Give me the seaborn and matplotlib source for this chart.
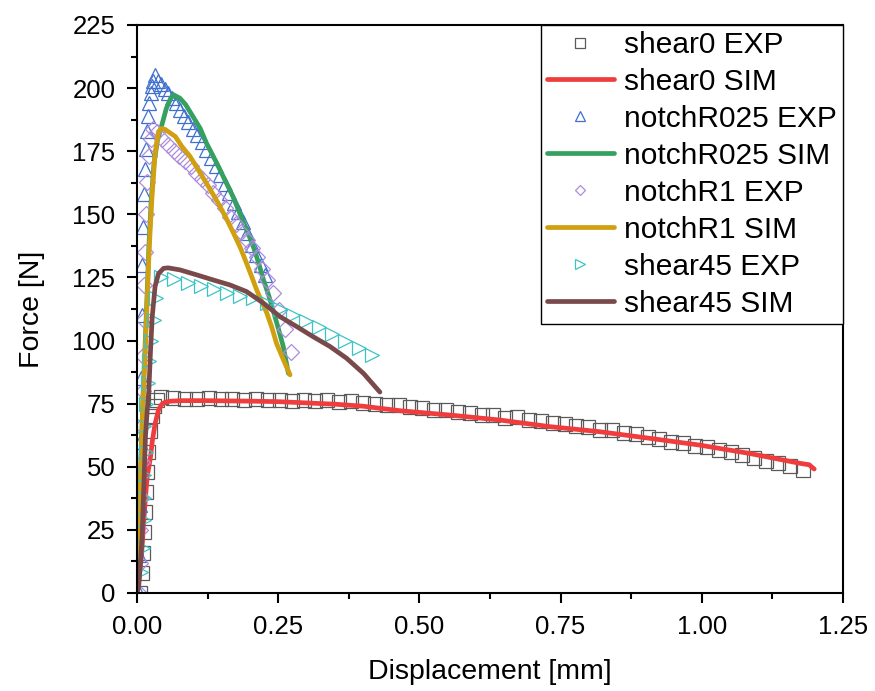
import matplotlib
matplotlib.use("Agg")
import matplotlib.pyplot as plt
import seaborn as sns
import pandas as pd
from matplotlib.ticker import MultipleLocator, FormatStrFormatter

# ---------------- data ----------------
shear0_exp_x = [0.006, 0.008, 0.010, 0.012, 0.014, 0.016, 0.018, 0.020, 0.023, 0.026, 0.030, 0.036,
                0.043, 0.064, 0.085, 0.106, 0.127, 0.148, 0.169, 0.190, 0.211, 0.232,
                0.253, 0.274, 0.295, 0.316, 0.337, 0.358, 0.379, 0.400, 0.421, 0.442,
                0.463, 0.484, 0.505, 0.526, 0.547, 0.568, 0.589, 0.610, 0.631, 0.652,
                0.673, 0.694, 0.715, 0.736, 0.757, 0.778, 0.799, 0.820, 0.841, 0.862,
                0.883, 0.904, 0.925, 0.946, 0.967, 0.988, 1.009, 1.030, 1.051, 1.072,
                1.093, 1.114, 1.135, 1.156, 1.179]
shear0_exp_f = [0, 8, 16, 24, 32, 40, 48, 56, 64, 70, 74, 76.5,
                77.5, 77.3, 76.8, 77.0, 77.2, 76.7, 77.0, 76.6, 76.9, 76.3,
                76.5, 76.0, 76.4, 76.0, 76.3, 75.6, 75.9, 75.2, 75.0, 74.5,
                74.4, 73.6, 73.4, 72.6, 72.4, 71.6, 71.4, 70.5, 70.5, 69.5,
                69.6, 68.5, 68.0, 67.2, 67.0, 66.0, 65.6, 64.7, 64.6, 63.4,
                62.9, 61.6, 61.0, 60.0, 59.4, 58.3, 57.8, 56.8, 55.8, 54.6,
                53.6, 52.4, 51.4, 50.2, 48.8]

shear0_sim_x = [0.0, 0.004, 0.008, 0.011, 0.015, 0.018, 0.021, 0.024, 0.027, 0.032, 0.038, 0.044,
                0.050, 0.060, 0.080, 0.12, 0.16, 0.20, 0.25, 0.30, 0.35, 0.40, 0.466, 0.554,
                0.643, 0.731, 0.819, 0.907, 0.996, 1.084, 1.173, 1.190, 1.199]
shear0_sim_f = [0, 6, 15, 25, 38, 46, 50, 54, 60, 67, 72.5, 74.8,
                75.6, 76.0, 76.2, 76.2, 76.1, 76.0, 75.8, 75.3, 74.8, 74.0, 72.2, 70.5,
                68.5, 65.9, 63.9, 61.3, 58.6, 55.3, 51.4, 50.8, 49.1]

r025_exp_x = [0.003, 0.004, 0.005, 0.006, 0.007, 0.008, 0.009, 0.010, 0.012, 0.014, 0.016, 0.018,
              0.020, 0.022, 0.024, 0.026, 0.028, 0.031,
              0.037, 0.043, 0.049, 0.055, 0.062, 0.069, 0.076, 0.083, 0.091, 0.099, 0.107,
              0.115, 0.123, 0.131, 0.139, 0.147, 0.155, 0.163, 0.171, 0.179, 0.187, 0.195,
              0.203, 0.211, 0.219, 0.226]
r025_exp_f = [0, 15, 35, 60, 85, 110, 130, 145, 158, 168, 176, 183,
              189, 194, 198, 201, 203, 205,
              203, 201.5, 199.5, 198, 196, 194, 191.5, 189, 186.5, 184, 181.5,
              178.5, 175.5, 172.5, 169, 165.5, 162, 158.5, 154.5, 151, 147, 142.5,
              138, 134, 130, 126]

r025_sim_x = [0.0, 0.004, 0.008, 0.011, 0.014, 0.017, 0.021, 0.025, 0.030, 0.036, 0.044, 0.052,
              0.060, 0.065, 0.076, 0.086, 0.097, 0.112, 0.123, 0.135, 0.147, 0.158, 0.170,
              0.182, 0.194, 0.206, 0.215, 0.224, 0.233, 0.241, 0.250, 0.259, 0.268]
r025_sim_f = [0, 30, 60, 80, 96, 113, 137, 155, 170, 179, 185.4, 192,
              196, 197.3, 196, 193.5, 189.5, 184, 178.2, 173, 167.6, 162.5, 157,
              150.4, 144, 137.2, 131, 124, 118, 112, 105, 97.6, 87]

r1_exp_x = [0.004, 0.005, 0.006, 0.007, 0.008, 0.009, 0.010, 0.011, 0.012, 0.013, 0.014, 0.016,
            0.018, 0.021, 0.025, 0.029,
            0.035, 0.045, 0.055, 0.065, 0.075, 0.085, 0.095, 0.105, 0.115, 0.125, 0.135,
            0.145, 0.155, 0.165, 0.175, 0.185, 0.194, 0.203, 0.212, 0.221, 0.230, 0.241,
            0.251, 0.262, 0.272]
r1_exp_f = [0, 12, 25, 38, 52, 66, 80, 94, 108, 122, 135, 150,
            163, 173, 180, 184,
            182.5, 180, 177.5, 175, 173, 171, 169, 166.5, 164, 161.5, 158.5,
            155.5, 152.5, 149, 146, 143, 140, 136.5, 133, 128.5, 124, 118.7,
            112, 104.5, 95.5]

r1_sim_x = [0.0, 0.004, 0.008, 0.011, 0.014, 0.017, 0.021, 0.024, 0.027, 0.032, 0.038, 0.044,
            0.050, 0.057, 0.068, 0.079, 0.094, 0.108, 0.123, 0.135, 0.147, 0.159, 0.171,
            0.183, 0.194, 0.203, 0.212, 0.221, 0.230, 0.239, 0.247, 0.259, 0.271]
r1_sim_f = [0, 30, 58, 78, 93, 110, 133, 147, 158.4, 174, 182.8, 184,
            183.6, 182.5, 180.8, 177, 172.9, 167.8, 162.3, 157.8, 153.1, 148, 142.5,
            136.8, 130.6, 125.4, 120, 115.4, 110.8, 105, 98.9, 92.5, 86.4]

s45_exp_x = [0.007, 0.010, 0.013, 0.013, 0.013, 0.016, 0.013, 0.016, 0.019, 0.022, 0.025, 0.030,
             0.033, 0.043, 0.066, 0.090, 0.113, 0.136, 0.160, 0.183, 0.206, 0.230, 0.253,
             0.276, 0.299, 0.323, 0.346, 0.369, 0.393, 0.416]
s45_exp_f = [8.5, 18, 29, 37.5, 46.8, 56, 66, 75, 83, 92, 100, 108,
             116.8, 125.3, 124.2, 122.8, 121.6, 120.3, 119.0, 117.8, 116.9, 115.0, 112.6,
             110.2, 107.8, 105.2, 102.6, 99.9, 97.2, 94.3]

s45_sim_x = [0.0, 0.003, 0.006, 0.009, 0.012, 0.015, 0.018, 0.021, 0.024, 0.027, 0.032, 0.038,
             0.047, 0.055, 0.076, 0.106, 0.135, 0.165, 0.194, 0.224, 0.253, 0.283, 0.312,
             0.342, 0.371, 0.401, 0.430]
s45_sim_f = [0, 2.5, 12, 22.3, 42, 62, 72, 80.4, 96.3, 109.5, 121.4, 126.5,
             128.6, 128.8, 128, 126, 124, 122, 119.4, 114.8, 109.5, 105.5, 101.5,
             97.6, 93, 87, 79.6]

labels = ["shear0 EXP", "shear0 SIM", "notchR025 EXP", "notchR025 SIM",
          "notchR1 EXP", "notchR1 SIM", "shear45 EXP", "shear45 SIM"]
colors = ["#5a5a5a", "#f03c3c", "#3f6fcf", "#35a060",
          "#ac8cdc", "#d0a010", "#3cc4c4", "#7a4a4a"]
markers = ["s", None, "^", None, "D", None, ">", None]

series = [(shear0_exp_x, shear0_exp_f), (shear0_sim_x, shear0_sim_f),
          (r025_exp_x, r025_exp_f), (r025_sim_x, r025_sim_f),
          (r1_exp_x, r1_exp_f), (r1_sim_x, r1_sim_f),
          (s45_exp_x, s45_exp_f), (s45_sim_x, s45_sim_f)]

# ---------------- style ----------------
sns.set_theme(style="ticks")
plt.rcParams["font.family"] = ["Liberation Sans", "DejaVu Sans"]
plt.rcParams["text.color"] = "black"
plt.rcParams["axes.labelcolor"] = "black"
plt.rcParams["xtick.color"] = "black"
plt.rcParams["ytick.color"] = "black"

fig = plt.figure(figsize=(8.75, 6.91), dpi=100)
ax = fig.add_axes([137 / 875, 98 / 691, (843 - 137) / 875, (593 - 25) / 691])

for (xs, fs), lab, col, mk in zip(series, labels, colors, markers):
    df = pd.DataFrame({"x": xs, "F": fs})
    if mk is None:
        sns.lineplot(data=df, x="x", y="F", ax=ax, sort=False, estimator=None,
                     color=col, lw=3.4, label=lab)
    else:
        ms = 9.5 if mk != "D" else 8.0
        sns.lineplot(data=df, x="x", y="F", ax=ax, sort=False, estimator=None,
                     color=col, linestyle="none", marker=mk, markersize=ms,
                     markerfacecolor="none", markeredgecolor=col,
                     markeredgewidth=0.9, label=lab)

ax.set_xlim(0, 1.25)
ax.set_ylim(0, 225)
ax.xaxis.set_major_locator(MultipleLocator(0.25))
ax.xaxis.set_minor_locator(MultipleLocator(0.125))
ax.yaxis.set_major_locator(MultipleLocator(25))
ax.yaxis.set_minor_locator(MultipleLocator(12.5))
ax.xaxis.set_major_formatter(FormatStrFormatter("%.2f"))
ax.yaxis.set_major_formatter(FormatStrFormatter("%d"))

for sp in ax.spines.values():
    sp.set_visible(True)
    sp.set_linewidth(1.5)
    sp.set_color("black")

ax.tick_params(axis="both", which="major", direction="out", length=7, width=1.5,
               labelsize=18.5, colors="black", pad=8.5, top=False, right=False)
ax.tick_params(axis="both", which="minor", direction="out", length=4, width=1.5,
               colors="black", top=False, right=False)

ax.set_xlabel("Displacement [mm]", fontsize=20.5, labelpad=15, color="black")
ax.set_ylabel("Force [N]", fontsize=20.5, labelpad=20, color="black")

leg = ax.legend(loc="upper right", fontsize=21.5, frameon=True, fancybox=False,
                edgecolor="black", borderaxespad=0, handlelength=2.27,
                handletextpad=0.33, labelspacing=0.3, borderpad=0.2,
                markerscale=0.7, numpoints=1, labelcolor="black")
leg.get_frame().set_linewidth(1.0)
leg.get_frame().set_alpha(1)

fig.savefig("out.png", dpi=100)
